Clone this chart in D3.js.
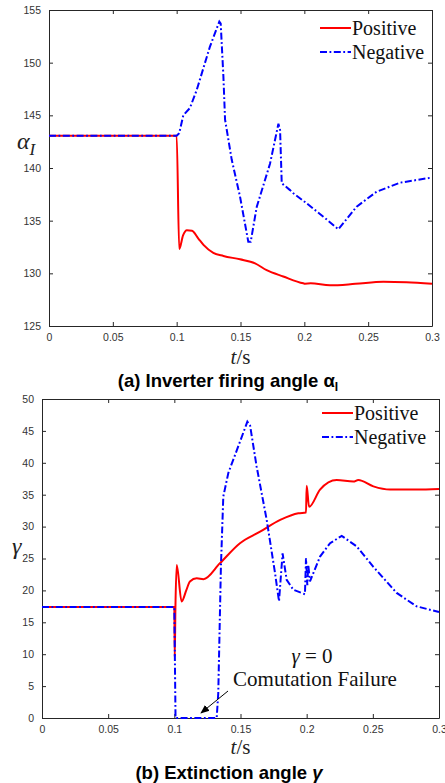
<!DOCTYPE html>
<html>
<head>
<meta charset="utf-8">
<script src="https://cdn.jsdelivr.net/npm/d3@7"></script>
<style>
  body { margin: 0; background: #fff; }
  svg { display: block; }
</style>
</head>
<body>
<div id="container"></div>
<script>
// Time axis ticks (shared)
var xTicks = [0, 0.05, 0.1, 0.15, 0.2, 0.25, 0.3];
var xTickLabels = ["0", "0.05", "0.1", "0.15", "0.2", "0.25", "0.3"];

// (a) firing angle, y ticks
var yTicksA = [125, 130, 135, 140, 145, 150, 155];
// (b) extinction angle, y ticks
var yTicksB = [0, 5, 10, 15, 20, 25, 30, 35, 40, 45, 50];

var seriesNames = ["Positive", "Negative"];

// (a) Positive: [t, alpha]
var posA = [[0, 143.07], [0.1, 143.07], [0.102, 132.3], [0.105, 133.6], [0.108, 134.1],
  [0.112, 134.05], [0.117, 133.3], [0.121, 132.7], [0.1287, 131.95], [0.1366, 131.65],
  [0.1496, 131.33], [0.1614, 130.95], [0.1705, 130.3], [0.1835, 129.7], [0.1992, 129.05],
  [0.2005, 129.02], [0.205, 129.05], [0.2201, 128.86], [0.24, 129.0], [0.2619, 129.2],
  [0.28, 129.15], [0.3, 129.0]];

// (a) Negative
var negA = [[0, 143.07], [0.1, 143.07], [0.102, 143.3], [0.1052, 145.0], [0.1104, 145.7],
  [0.1157, 147.4], [0.126, 151.5], [0.1334, 153.9], [0.1345, 153.7], [0.1366, 148.7],
  [0.1379, 144.6], [0.1431, 140.8], [0.1496, 137.3], [0.1561, 133.0], [0.158, 133.0],
  [0.1627, 136.3], [0.1731, 140.4], [0.1797, 144.2], [0.181, 143.6], [0.1823, 138.55],
  [0.1888, 137.9], [0.1914, 137.6], [0.2018, 136.65], [0.2149, 135.38], [0.2266, 134.18],
  [0.241, 136.33], [0.2566, 137.75], [0.2749, 138.6], [0.3, 139.1]];

// (b) Positive: [t, gamma]
var posB = [[0, 17.4], [0.1, 17.4], [0.1003, 9.6], [0.1008, 17], [0.1018, 24.0],
  [0.1055, 18.26], [0.109, 20], [0.1118, 21.4], [0.1169, 21.9], [0.122, 21.76],
  [0.1345, 24.27], [0.1496, 27.4], [0.1648, 29.2], [0.18, 31.05], [0.1937, 32.1],
  [0.1995, 32.2], [0.2, 36.4], [0.2018, 33.1], [0.2101, 35.8], [0.2227, 37.3],
  [0.2353, 37.05], [0.239, 37.3], [0.2504, 36.3], [0.263, 35.8], [0.2831, 35.8], [0.3, 35.9]];

// (b) Negative
var negB = [[0, 17.4], [0.1, 17.4], [0.1009, 0], [0.132, 0], [0.1332, 3.9], [0.1352, 23.7],
  [0.137, 34.7], [0.1408, 38.4], [0.1496, 43.3], [0.1552, 46.45], [0.1572, 45.9],
  [0.1622, 39.4], [0.1698, 31.05], [0.1761, 22.7], [0.1791, 18.3], [0.1818, 25.8],
  [0.1849, 21.65], [0.1899, 20.1], [0.1987, 19.4], [0.1995, 25.05], [0.2005, 20.8],
  [0.2012, 24], [0.2025, 21.4], [0.2101, 25.3], [0.2177, 27.4], [0.2265, 28.55],
  [0.2378, 26.9], [0.2504, 23.7], [0.268, 19.6], [0.2831, 17.5], [0.3, 16.6]];

var width = 445, height = 783;
var svg = d3.select("#container").append("svg")
  .attr("width", width)
  .attr("height", height);

var axisColor = "#262626";
var serif = "'Liberation Serif', 'Times New Roman', serif";
var sans = "'Liberation Sans', Arial, sans-serif";
var dashNeg = "7,2.5,1.8,2.5";

function drawPanel(cfg) {
  var x = d3.scaleLinear().domain([0, 0.3]).range([cfg.left, cfg.right]);
  var y = d3.scaleLinear().domain(cfg.yDomain).range([cfg.bottom, cfg.top]);
  var g = svg.append("g");

  // Axes, ticks inward on all four sides
  var bottomAx = d3.axisBottom(x).tickValues(xTicks)
    .tickFormat(function(d, i) { return xTickLabels[i]; })
    .tickSizeInner(-4).tickSizeOuter(0).tickPadding(8);
  var topAx = d3.axisTop(x).tickValues(xTicks).tickFormat("")
    .tickSizeInner(-4).tickSizeOuter(0);
  var leftAx = d3.axisLeft(y).tickValues(cfg.yTicks)
    .tickSizeInner(-4).tickSizeOuter(0).tickPadding(8);
  var rightAx = d3.axisRight(y).tickValues(cfg.yTicks).tickFormat("")
    .tickSizeInner(-4).tickSizeOuter(0);

  g.append("g").attr("transform", "translate(0," + cfg.bottom + ")").call(bottomAx);
  g.append("g").attr("transform", "translate(0," + cfg.top + ")").call(topAx);
  g.append("g").attr("transform", "translate(" + cfg.left + ",0)").call(leftAx);
  g.append("g").attr("transform", "translate(" + cfg.right + ",0)").call(rightAx);

  g.selectAll(".domain").attr("stroke", axisColor).attr("stroke-width", 1);
  g.selectAll(".tick line").attr("stroke", axisColor).attr("stroke-width", 1);
  g.selectAll(".tick text")
    .attr("fill", "#333")
    .style("font-family", sans)
    .style("font-size", "10.5px");

  // Curves
  var lineSmooth = d3.line()
    .x(function(d) { return x(d[0]); })
    .y(function(d) { return y(d[1]); })
    .curve(d3.curveMonotoneX);
  var lineSharp = d3.line()
    .x(function(d) { return x(d[0]); })
    .y(function(d) { return y(d[1]); });

  g.append("path").datum(cfg.pos)
    .attr("d", lineSmooth)
    .attr("fill", "none")
    .attr("stroke", "#ff0000")
    .attr("stroke-width", 2);

  g.append("path").datum(cfg.neg)
    .attr("d", lineSharp)
    .attr("fill", "none")
    .attr("stroke", "#0000ff")
    .attr("stroke-width", 2)
    .attr("stroke-dasharray", dashNeg);

  // Legend
  var lg = g.append("g");
  var colors = ["#ff0000", "#0000ff"];
  var dashes = [null, dashNeg];
  seriesNames.forEach(function(name, i) {
    var ly = cfg.legendY + i * 24;
    lg.append("line")
      .attr("x1", cfg.legendX).attr("x2", cfg.legendX + 31)
      .attr("y1", ly).attr("y2", ly)
      .attr("stroke", colors[i]).attr("stroke-width", 2)
      .attr("stroke-dasharray", dashes[i]);
    lg.append("text")
      .attr("x", cfg.legendX + 32).attr("y", ly + 6.5)
      .style("font-family", serif).style("font-size", "20px")
      .attr("fill", "#111")
      .text(name);
  });

  // x label t/s
  var xl = g.append("text")
    .attr("x", (cfg.left + cfg.right) / 2).attr("y", cfg.xLabelY)
    .attr("text-anchor", "middle")
    .style("font-family", serif).style("font-size", "21px")
    .attr("fill", "#222");
  xl.append("tspan").style("font-style", "italic").text("t");
  xl.append("tspan").text("/s");

  return { x: x, y: y, g: g };
}

// Panel (a)
var pa = drawPanel({
  left: 49, right: 432, top: 10, bottom: 326,
  yDomain: [125, 155], yTicks: yTicksA,
  pos: posA, neg: negA,
  legendX: 320, legendY: 28, xLabelY: 364
});

var ya = pa.g.append("text")
  .attr("x", 17).attr("y", 149)
  .style("font-family", serif).style("font-style", "italic")
  .attr("fill", "#222");
ya.append("tspan").style("font-size", "24px").text("α");
ya.append("tspan").attr("dy", 6).style("font-size", "17px").text("I");

var ta = svg.append("text")
  .attr("x", 228).attr("y", 387)
  .attr("text-anchor", "middle")
  .style("font-family", sans).style("font-weight", "bold").style("font-size", "18.5px")
  .attr("fill", "#000");
ta.append("tspan").text("(a) Inverter firing angle α");
ta.append("tspan").attr("dy", 4).style("font-size", "12px").text("I");

// Panel (b)
var pb = drawPanel({
  left: 42, right: 439, top: 399, bottom: 718,
  yDomain: [0, 50], yTicks: yTicksB,
  pos: posB, neg: negB,
  legendX: 322, legendY: 413, xLabelY: 754
});

pb.g.append("text")
  .attr("x", 12).attr("y", 554)
  .style("font-family", serif).style("font-style", "italic").style("font-size", "24px")
  .attr("fill", "#222")
  .text("γ");

// Annotation
var ann = pb.g.append("text")
  .attr("x", 312).attr("y", 663)
  .attr("text-anchor", "middle")
  .style("font-family", serif).style("font-size", "21px")
  .attr("fill", "#111");
ann.append("tspan").style("font-style", "italic").text("γ");
ann.append("tspan").text(" = 0");

pb.g.append("text")
  .attr("x", 315).attr("y", 686)
  .attr("text-anchor", "middle")
  .style("font-family", serif).style("font-size", "21px")
  .attr("fill", "#111")
  .text("Comutation Failure");

svg.append("defs").append("marker")
  .attr("id", "arrow")
  .attr("viewBox", "0 0 10 10")
  .attr("refX", 9).attr("refY", 5)
  .attr("markerWidth", 9).attr("markerHeight", 9)
  .attr("markerUnits", "userSpaceOnUse")
  .attr("orient", "auto")
  .append("path")
  .attr("d", "M0,1 L10,5 L0,9 Z")
  .attr("fill", "#000");

pb.g.append("line")
  .attr("x1", 228).attr("y1", 691)
  .attr("x2", 201).attr("y2", 713)
  .attr("stroke", "#000").attr("stroke-width", 1)
  .attr("marker-end", "url(#arrow)");

var tb = svg.append("text")
  .attr("x", 229).attr("y", 779)
  .attr("text-anchor", "middle")
  .style("font-family", sans).style("font-weight", "bold").style("font-size", "18.5px")
  .attr("fill", "#000");
tb.append("tspan").text("(b) Extinction angle ");
tb.append("tspan").style("font-style", "italic").text("γ");
</script>
</body>
</html>
